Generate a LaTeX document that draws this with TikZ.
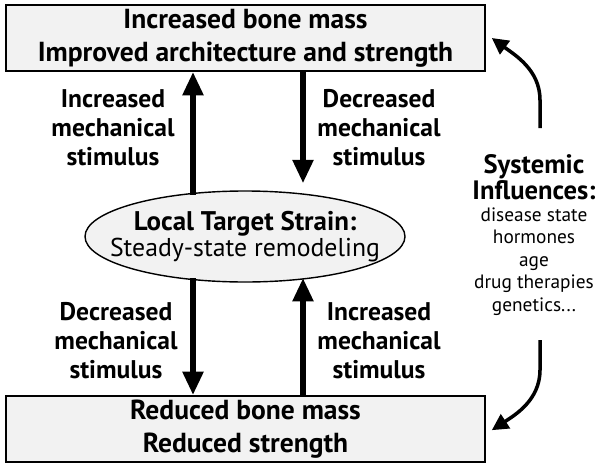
\documentclass[tikz,border=0pt]{standalone}
\usepackage{fontspec}
\setmainfont{PT Sans}
\usetikzlibrary{arrows.meta,shapes.geometric}

\tikzset{
  boxnode/.style={draw, line width=1.6pt, fill=black!5, minimum width=143.7mm,
    minimum height=19.8mm, align=center, font=\bfseries\fontsize{23.5}{28}\selectfont},
  strainnode/.style={draw, ellipse, line width=1.2pt, fill=black!5, minimum width=96mm,
    minimum height=27.3mm, inner xsep=-19pt, inner ysep=0pt, align=center},
  stimlabel/.style={align=center, font=\bfseries\fontsize{21.8}{24.7}\selectfont},
  bigarrow/.style={line width=4.8pt, -{Triangle[length=20pt,width=17pt]}},
  bendarrow/.style={line width=3pt, -{Triangle[length=14pt,width=14pt]}}
}

\begin{document}
\begin{tikzpicture}[x=0.3mm, y=-0.3mm]
	%%%%% START %%%%%
	\useasboundingbox (0, 0) rectangle (600, 467);
	
	\node[boxnode] (top) at (245.5, 38) {Increased bone mass\\Improved architecture and strength};
	\node[boxnode] (bottom) at (245.5, 429) {Reduced bone mass\\Reduced strength};
	
	\node[strainnode] (strain) at (245, 236.5)
	  {{\bfseries\fontsize{23}{27}\selectfont Local Target Strain:}\\
	   {\fontsize{22}{27}\selectfont Steady-state remodeling}};
	
	% mechanical stimulus labels
	\node[stimlabel] (incUp) at (113, 128) {Increased\\mechanical\\stimulus};
	\node[stimlabel] (decUp) at (379, 128) {Decreased\\mechanical\\stimulus};
	\node[stimlabel] (decLow) at (116, 341) {Decreased\\mechanical\\stimulus};
	\node[stimlabel] (incLow) at (379, 341) {Increased\\mechanical\\stimulus};
	
	\coordinate (xl) at (193, 0);
	\coordinate (xr) at (303, 0);
	
	\draw[bigarrow] ([yshift=-4]strain.north -| xl) -- (top.south -| xl);
	\draw[bigarrow] (top.south -| xr) -- ([yshift=6]strain.north -| xr);
	\draw[bigarrow] ([yshift=4]strain.south -| xl) -- (bottom.north -| xl);
	\draw[bigarrow] (bottom.north -| xr) -- ([yshift=4]strain.south -| xr);
	
	% systemic influences
	\node[align=center, font=\fontsize{16.5}{19.2}\selectfont] (sys) at (534, 235)
	  {{\bfseries\fontsize{22.7}{22}\selectfont Systemic}\\
	   {\bfseries\fontsize{22.7}{22}\selectfont Influences:}\\
	   disease state\\hormones\\age\\drug therapies\\genetics...};
	
	\coordinate (sysTop) at (540, 128);
	\coordinate (sysLow) at (540, 340);
	
	\draw[bendarrow] (sysTop) -- (540, 100) .. controls (540, 70) and (515, 55) .. ([xshift=5]top.east);
	\draw[bendarrow] (sysLow) -- (540, 370) .. controls (540, 400) and (515, 415) .. ([xshift=5, yshift=-1]bottom.east);
	
	%%%%% END %%%%%
\end{tikzpicture}
\end{document}
